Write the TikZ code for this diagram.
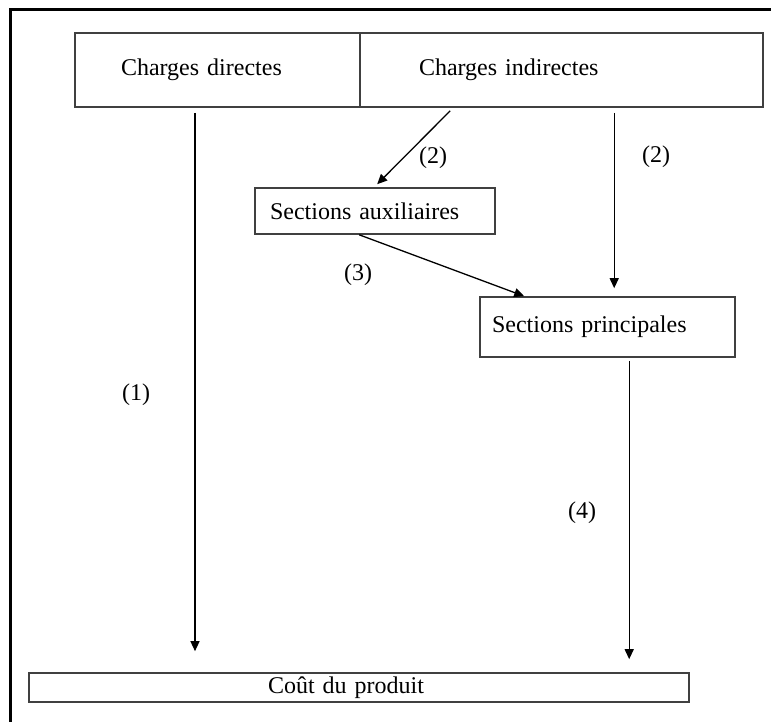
\documentclass[tikz,border=0pt]{standalone}
\usepackage{fontspec}
\setmainfont{Liberation Serif}
\usetikzlibrary{arrows.meta}

\begin{document}
\begin{tikzpicture}[x=1pt, y=-1pt,
  boite/.style={draw=\GRIS, line width=1.6pt, rectangle, inner ysep=0pt, align=left},
  fleche/.style={-{Triangle[length=10pt,width=9pt]}, line width=1.3pt},
  repere/.style={inner sep=0pt}]

\newcommand\GRIS{black!75}

\useasboundingbox (0,0) rectangle (771,722);
\fontsize{24}{28}\selectfont

%% cadre
\draw[line width=3pt] (771,10) -- (10,10) -- (10,722);

%% charges
\node[boite, minimum height=74pt, inner xsep=46pt, text width=193pt] (directes) at (217.5,70) {Charges directes};
\node[boite, minimum height=74pt, inner xsep=59pt, text width=285pt] (indirectes) at (561.5,70) {Charges indirectes};

%% sections
\node[boite, minimum height=46pt, inner xsep=15pt, text width=210pt] (auxiliaires) at (375,211) {Sections auxiliaires};
\node[boite, minimum height=60pt, inner xsep=12pt, text width=231pt] (principales) at (607.5,327) {Sections principales};

%% cout
\node[boite, minimum height=29pt, inner xsep=239pt, text width=182pt] (produit) at (359,687.5) {Coût du produit};

\coordinate (bout1) at ([xshift=166.8pt,yshift=21pt]produit.north west);
\coordinate (bout4) at ([xshift=601pt,yshift=13pt]produit.north west);

%% fleches
\draw[fleche] ([xshift=-22.5pt,yshift=-5pt]directes.south) -- (bout1);
\draw[fleche] ([xshift=91pt,yshift=-3pt]indirectes.south west) -- ([xshift=123pt,yshift=3pt]auxiliaires.north west);
\draw[fleche] ([xshift=255pt,yshift=-5pt]indirectes.south west) -- ([xshift=135pt,yshift=8pt]principales.north west);
\draw[fleche] ([xshift=105pt]auxiliaires.south west) -- ([xshift=45pt]principales.north west);
\draw[fleche] ([xshift=150pt,yshift=-3pt]principales.south west) -- (bout4);

%% reperes
\node[repere] (n1) at (136,395) {(1)};
\node[repere] (n2a) at (433,158) {(2)};
\node[repere] (n2b) at (656,157) {(2)};
\node[repere] (n3) at (358,275) {(3)};
\node[repere] (n4) at (582,513) {(4)};
\end{tikzpicture}
\end{document}
